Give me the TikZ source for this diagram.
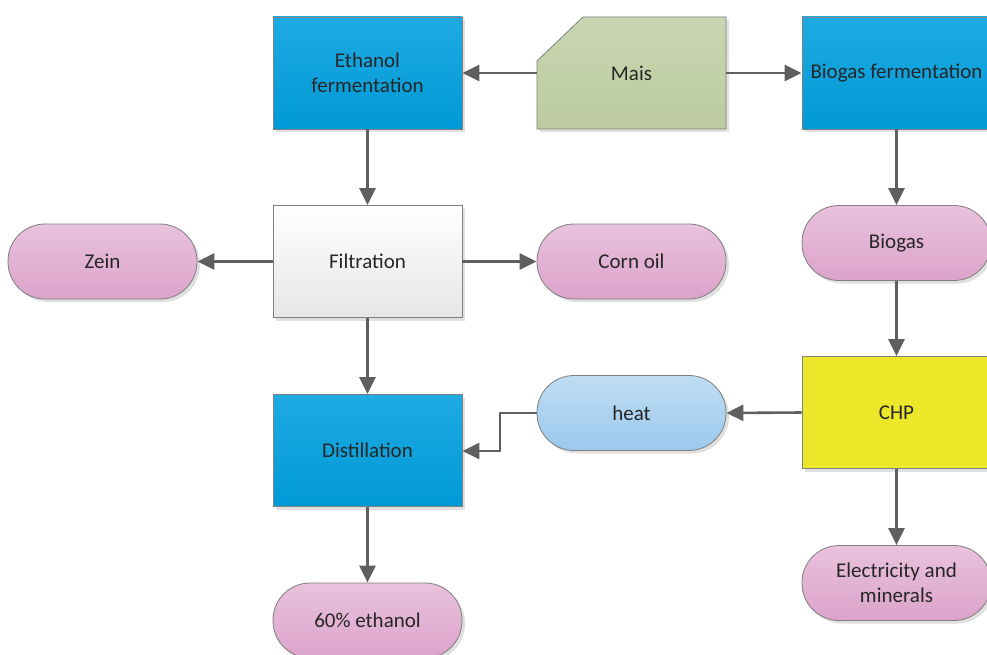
\documentclass[tikz,border=0pt]{standalone}
\usepackage{fontspec}
\setmainfont{Carlito}
\usetikzlibrary{arrows.meta}
\definecolor{txt}{HTML}{262626}
\definecolor{edge}{HTML}{7F7F7F}
\definecolor{conn}{HTML}{5F5F5F}
\definecolor{blueT}{HTML}{1FAAE2}
\definecolor{blueB}{HTML}{009AD6}
\definecolor{greenT}{HTML}{C9D6B2}
\definecolor{greenB}{HTML}{BCCB9E}
\definecolor{pinkT}{HTML}{E9C2DD}
\definecolor{pinkB}{HTML}{DBA3CA}
\definecolor{lblueT}{HTML}{BEDDF3}
\definecolor{lblueB}{HTML}{9CC8EC}
\definecolor{yel}{HTML}{EDE72A}
\definecolor{whT}{HTML}{FFFFFF}
\definecolor{whB}{HTML}{E6E6E6}
\tikzset{
  base/.style={draw=edge, line width=0.8pt, inner sep=0pt, align=center, text=txt,
    font=\fontsize{21}{25}\selectfont, minimum width=189pt,
    preaction={fill=black!12, transform canvas={xshift=3pt,yshift=-3pt}}},
  procbox/.style={base, minimum height=112pt},
  bluebox/.style={procbox, top color=blueT, bottom color=blueB},
  whitebox/.style={procbox, top color=whT, bottom color=whB},
  yelbox/.style={procbox, fill=yel},
  pill/.style={base, minimum height=75pt, rounded corners=37pt},
  pinkpill/.style={pill, top color=pinkT, bottom color=pinkB},
  bluepill/.style={pill, top color=lblueT, bottom color=lblueB},
  plain/.style={inner sep=0pt, align=center, text=txt, font=\fontsize{21}{25}\selectfont,
    minimum width=189pt, minimum height=112pt},
  conn/.style={draw=conn, line width=2.6pt, -{Triangle[length=17pt,width=16pt]}}
}
\begin{document}
\begin{tikzpicture}[x=1pt,y=-1pt]
\useasboundingbox (0,0) rectangle (987,655);
\clip (0,0) rectangle (987,655);
\fill[white] (0,0) rectangle (987,655);
% Mais shape
\fill[black!12] (540,64) -- (586,20) -- (729,20) -- (729,132) -- (540,132) -- cycle;
\path[draw=edge, line width=0.8pt, top color=greenT, bottom color=greenB]
  (537,61) -- (583,17) -- (726,17) -- (726,129) -- (537,129) -- cycle;
\node[plain] (mais) at (631.5,73) {Mais};
\node[bluebox] (ef) at (367.5,73) {Ethanol\\fermentation};
\node[bluebox] (bf) at (896.5,73) {Biogas fermentation};
\node[whitebox] (fil) at (367.5,261.5) {Filtration};
\node[pinkpill] (zein) at (102.5,261.5) {Zein};
\node[pinkpill] (oil) at (631.5,261.5) {Corn oil};
\node[pinkpill] (biogas) at (896.5,243) {Biogas};
\node[bluebox] (dist) at (367.5,450.5) {Distillation};
\node[bluepill] (heat) at (631.5,413) {heat};
\node[yelbox] (chp) at (896.5,412.5) {CHP};
\node[pinkpill] (elec) at (896.5,583) {Electricity and\\minerals};
\node[pinkpill] (eth) at (367.5,620.5) {60\% ethanol};
% connectors
\draw[conn] (mais.west) -- (ef.east);
\draw[conn] (mais.east) -- (bf.west);
\draw[conn] (ef.south) -- (fil.north);
\draw[conn] (fil.west) -- (zein.east);
\draw[conn] (fil.east) -- (oil.west);
\draw[conn] (fil.south) -- (dist.north);
\draw[conn] (dist.south) -- (eth.north);
\draw[conn] (bf.south) -- (biogas.north);
\draw[conn] (biogas.south) -- (chp.north);
\draw[conn] (chp.south) -- (elec.north);
\draw[conn] (chp.west) -- (heat.east);
\draw[conn] (heat.west) -- (500,413) -- (500,451) -- (dist.east |- 0,451);
\end{tikzpicture}
\end{document}
